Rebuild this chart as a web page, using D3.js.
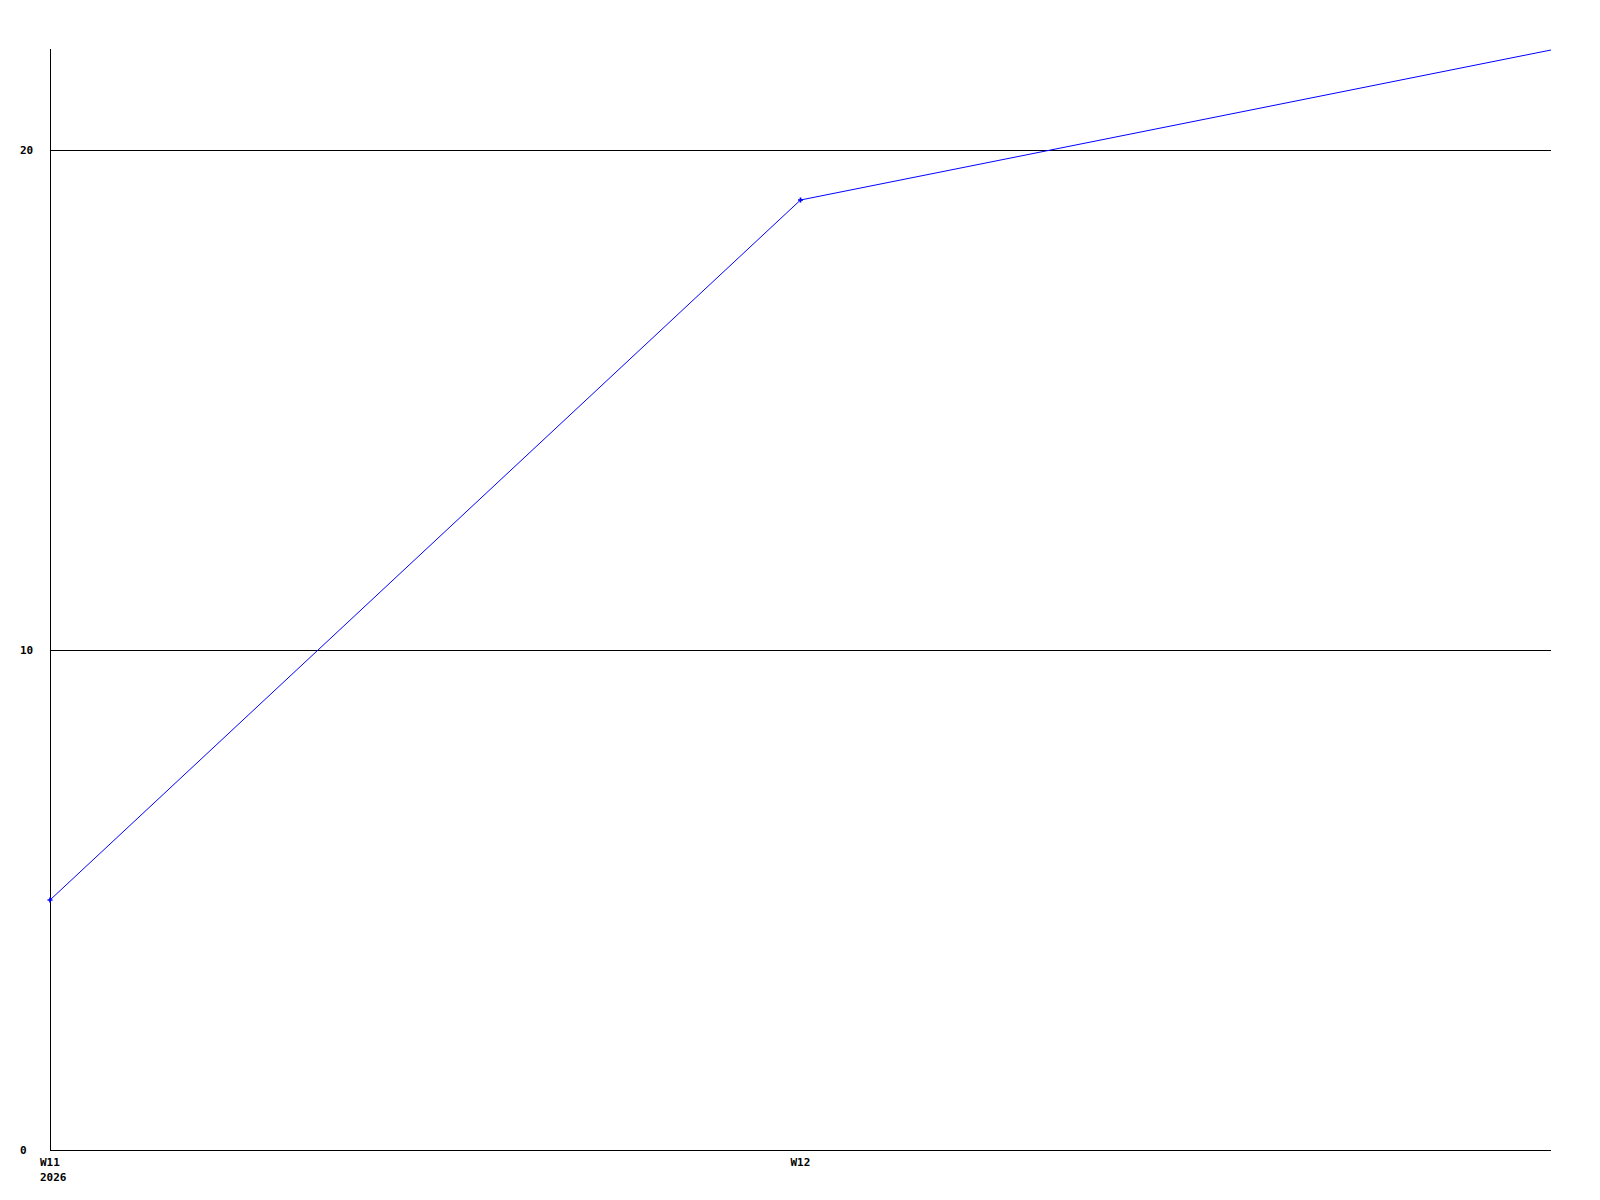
<!DOCTYPE html>
<html>
<head>
<meta charset="utf-8">
<script src="https://cdn.jsdelivr.net/npm/d3@7"></script>
<style>
  body { margin: 0; background: #fff; }
  text { font-family: "DejaVu Sans Mono", monospace; font-weight: bold; font-size: 11px; fill: #000; }
</style>
</head>
<body>
<div id="chart"></div>
<script>
const weeks = ['W11', 'W12', 'W13'];
const weekLabels = ['W11', 'W12', ''];
const yearLabels = ['2026', '', ''];
const values = [5, 19, 22];
const yTicks = [0, 10, 20];

const width = 1600;
const height = 1200;
const margin = { top: 49, right: 49, bottom: 50, left: 50 };

const svg = d3.select('#chart').append('svg')
  .attr('width', width)
  .attr('height', height);

const x = d3.scalePoint()
  .domain(weeks)
  .range([margin.left, width - margin.right]);

const y = d3.scaleLinear()
  .domain([0, 22])
  .range([height - margin.bottom, margin.top + 1]);

// grid lines
svg.append('g')
  .selectAll('line')
  .data(yTicks.filter(d => d > 0))
  .enter().append('line')
  .attr('x1', margin.left)
  .attr('x2', width - margin.right)
  .attr('y1', d => y(d) + 0.5)
  .attr('y2', d => y(d) + 0.5)
  .attr('stroke', '#000')
  .attr('stroke-width', 1);

// axes lines
svg.append('line')
  .attr('x1', margin.left + 0.5).attr('x2', margin.left + 0.5)
  .attr('y1', margin.top).attr('y2', height - margin.bottom)
  .attr('stroke', '#000');
svg.append('line')
  .attr('x1', margin.left).attr('x2', width - margin.right)
  .attr('y1', height - margin.bottom + 0.5).attr('y2', height - margin.bottom + 0.5)
  .attr('stroke', '#000');

// y labels, left aligned
svg.append('g')
  .selectAll('text')
  .data(yTicks)
  .enter().append('text')
  .attr('x', margin.left - 30)
  .attr('y', d => y(d) + 4)
  .text(d => d);

// x labels
const xl = svg.append('g')
  .selectAll('g')
  .data(weeks)
  .enter().append('g');
xl.append('text')
  .attr('x', d => x(d) - 10)
  .attr('y', height - margin.bottom + 16)
  .text((d, i) => weekLabels[i]);
xl.append('text')
  .attr('x', d => x(d) - 10)
  .attr('y', height - margin.bottom + 31)
  .text((d, i) => yearLabels[i]);

// series line
const line = d3.line()
  .x((d, i) => x(weeks[i]))
  .y(d => y(d));

svg.append('path')
  .datum(values)
  .attr('d', line)
  .attr('fill', 'none')
  .attr('stroke', '#0000ff')
  .attr('stroke-width', 1);

// point markers
svg.append('g')
  .selectAll('path')
  .data(values.slice(0, 2))
  .enter().append('path')
  .attr('d', d3.symbol(d3.symbolCross, 14))
  .attr('transform', (d, i) => `translate(${x(weeks[i])},${y(d)})`)
  .attr('fill', '#0000ff');
</script>
</body>
</html>
